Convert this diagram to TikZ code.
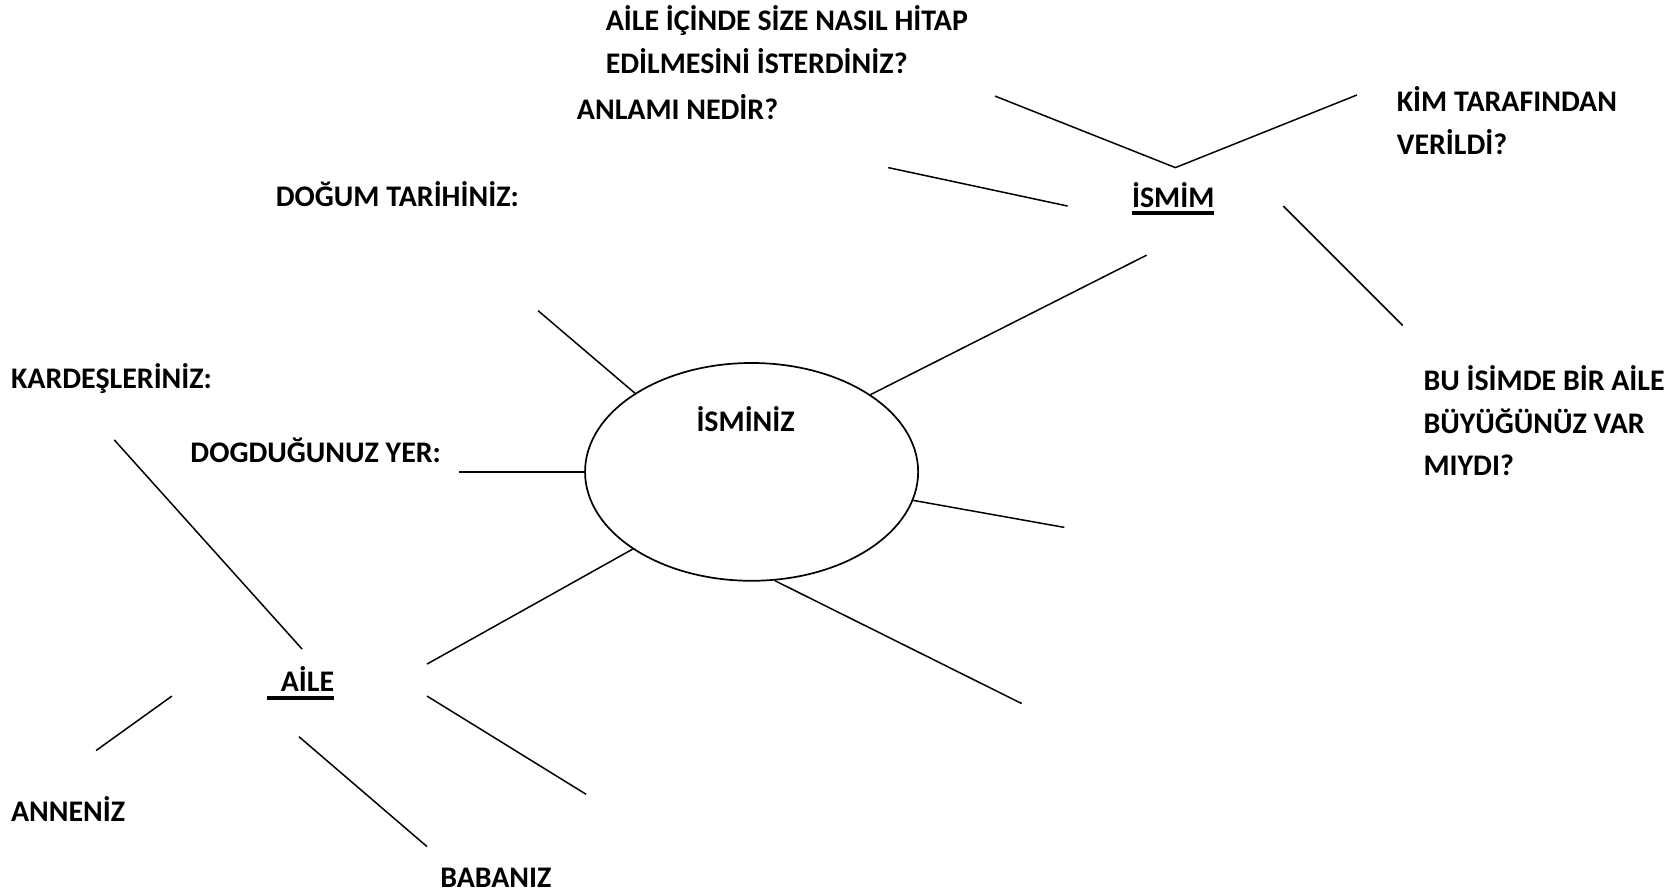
\documentclass[tikz,border=0pt]{standalone}
\usepackage{fontspec}
\setmainfont{Carlito}
\usetikzlibrary{shapes.geometric}
\newcommand{\thickul}[1]{\setbox0\hbox{#1}\leavevmode\rlap{\rule[-3.6pt]{\wd0}{1.7pt}}\box0}
\begin{document}
\begin{tikzpicture}[x=0.5pt,y=-0.5pt,
  lbl/.style={anchor=west,inner sep=0pt,font=\bfseries\fontsize{14}{20}\selectfont,align=left},
  con/.style={line width=0.7pt},
  bubble/.style={draw,ellipse,line width=0.8pt,minimum width=156pt,minimum height=102pt,inner sep=0pt}]
\useasboundingbox (0,0) rectangle (1568,835);
% central ellipse
\node[bubble] (ell) at (704,442) {};
\node[lbl] (isminiz) at (652,393) {İSMİNİZ};
% labels
\node[lbl] (hitap) at (567,37) {AİLE İÇİNDE SİZE NASIL HİTAP\\EDİLMESİNİ İSTERDİNİZ?};
\node[lbl] (anlam) at (540,100) {ANLAMI NEDİR?};
\node[lbl] (kim) at (1308,113) {KİM TARAFINDAN\\VERİLDİ?};
\node[lbl] (ismim) at (1060,186) {\thickul{İSMİM}};
\node[lbl] (dogum) at (258,182) {DOĞUM TARİHİNİZ:};
\node[lbl] (kard) at (10,355) {KARDEŞLERİNİZ:};
\node[lbl] (dyer) at (178,422) {DOGDUĞUNUZ YER:};
\node[lbl] (buisim) at (1333,394) {BU İSİMDE BİR AİLE\\BÜYÜĞÜNÜZ VAR\\MIYDI?};
\node[lbl] (aile) at (250,640) {\thickul{\hspace{0.45em}AİLE}};
\node[lbl] (anne) at (10,758) {ANNENİZ};
\node[lbl] (baba) at (412,822) {BABANIZ};
% free ends
\coordinate (v1) at (932,90);
\coordinate (v2) at (1101,157);
\coordinate (v3) at (1271,89);
\coordinate (a1) at (832,157);
\coordinate (a2) at (1000,193);
\coordinate (m1) at (1074,239);
\coordinate (b1) at (1202,193);
\coordinate (b2) at (1314,305);
\coordinate (t1) at (504,291);
\coordinate (l1) at (430,442);
\coordinate (r1) at (997,494);
\coordinate (r2) at (957,659);
\coordinate (f1) at (400,622);
\coordinate (k1) at (107,412);
\coordinate (k2) at (283,608);
\coordinate (n1) at (161,652);
\coordinate (n2) at (90,703);
\coordinate (p1) at (280,690);
\coordinate (p2) at (400,793);
\coordinate (s1) at (400,652);
\coordinate (s2) at (549,744);
% connectors
\draw[con] (v1) -- (v2) -- (v3);
\draw[con] (a1) -- (a2);
\draw[con] (m1) -- (ell.33.8);
\draw[con] (b1) -- (b2);
\draw[con] (t1) -- (ell.146.1);
\draw[con] (l1) -- (ell.180);
\draw[con] (r1) -- (ell.-10.1);
\draw[con] (r2) -- (ell.-78.5);
\draw[con] (f1) -- (ell.213.8);
\draw[con] (k1) -- (k2);
\draw[con] (n1) -- (n2);
\draw[con] (p1) -- (p2);
\draw[con] (s1) -- (s2);
\end{tikzpicture}
\end{document}
